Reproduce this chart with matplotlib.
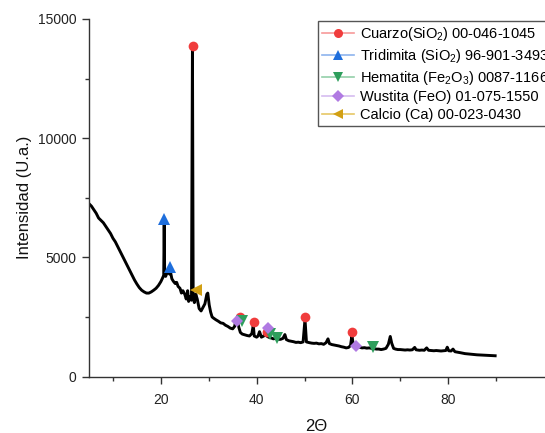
import matplotlib
matplotlib.use("Agg")
import matplotlib.pyplot as plt
from matplotlib.lines import Line2D

plt.rcParams['font.family'] = ['Liberation Sans', 'DejaVu Sans']
plt.rcParams['mathtext.fontset'] = 'custom'
plt.rcParams['mathtext.rm'] = 'Liberation Sans'
plt.rcParams['mathtext.it'] = 'Liberation Sans:italic'
plt.rcParams['mathtext.bf'] = 'Liberation Sans:bold'

# ---- XRD pattern ----
two_theta = [5.0, 5.5, 6.0, 6.5, 7.0, 7.5, 8.0, 8.5, 9.0, 9.5, 10.0, 10.5, 11.0, 11.5,
             12.0, 12.5, 13.0, 13.5, 14.0, 14.5, 15.0, 15.5, 16.0, 16.5, 17.0, 17.5,
             18.0, 18.5, 19.0, 19.5, 20.0, 20.4, 20.6, 20.7, 20.8, 21.0, 21.3, 21.6,
             21.8, 22.0, 22.3, 22.6, 23.0, 23.3, 23.6, 24.0, 24.3, 24.6, 25.0, 25.3,
             25.6, 25.8, 26.1, 26.4, 26.6, 26.75, 27.0, 27.3, 27.6, 28.0, 28.4, 28.8,
             29.2, 29.6, 29.8, 30.1, 30.4, 30.7, 31.0, 31.5, 32.0, 32.5, 33.0, 33.5,
             34.0, 34.5, 35.0, 35.4, 35.6, 36.0, 36.3, 36.6, 37.0, 37.5, 38.0, 38.5,
             39.0, 39.3, 39.5, 40.0, 40.3, 40.6, 41.0, 41.5, 41.8, 42.1, 42.5, 43.0,
             43.5, 44.0, 44.5, 45.0, 45.5, 45.9, 46.2, 46.7, 47.2, 47.7, 48.2, 48.7,
             49.2, 49.7, 50.1, 50.4, 51.0, 51.5, 52.0, 52.5, 53.0, 53.5, 54.0, 54.5,
             54.9, 55.2, 55.7, 56.2, 56.7, 57.2, 57.7, 58.2, 58.7, 59.2, 59.6, 59.9,
             60.2, 60.6, 61.0, 61.5, 62.0, 62.5, 63.0, 63.5, 64.0, 64.5, 65.0, 65.5,
             66.0, 66.5, 67.0, 67.5, 67.9, 68.2, 68.6, 69.0, 69.5, 70.0, 70.5, 71.0,
             71.5, 72.0, 72.5, 73.0, 73.3, 74.0, 74.5, 75.0, 75.5, 75.9, 76.5, 77.0,
             77.5, 78.0, 78.5, 79.0, 79.5, 79.8, 80.1, 80.6, 81.0, 81.4, 82.0, 82.5,
             83.0, 83.5, 84.0, 85.0, 86.0, 87.0, 88.0, 89.0, 89.8]
intensity = [7250, 7150, 7000, 6850, 6650, 6550, 6450, 6300, 6150, 6000, 5800, 5650, 5450, 5250,
             5050, 4850, 4650, 4450, 4250, 4050, 3880, 3730, 3620, 3550, 3500, 3500,
             3550, 3620, 3700, 3820, 3980, 4150, 4250, 6450, 4250, 4200, 4350, 4450,
             4300, 4400, 4100, 4000, 3900, 3950, 3780, 3700, 3500, 3600, 3450, 3250,
             3600, 3150, 3350, 3200, 13850, 3350, 3100, 3450, 3250, 2850, 2750, 2900,
             3050, 3450, 3500, 3000, 2700, 2500, 2450, 2380, 2320, 2250, 2230, 2150,
             2100, 2030, 2000, 2100, 2280, 2300, 2050, 1850, 1780, 1750, 1720, 1700,
             1800, 2150, 1700, 1650, 1700, 1880, 1650, 1700, 1850, 1700, 1650, 1620,
             1580, 1600, 1560, 1560, 1600, 1760, 1550, 1500, 1480, 1460, 1430, 1440,
             1420, 1450, 2400, 1450, 1420, 1400, 1390, 1400, 1370, 1380, 1350, 1420,
             1580, 1380, 1340, 1320, 1300, 1280, 1250, 1230, 1200, 1220, 1300, 1720,
             1300, 1250, 1220, 1230, 1200, 1210, 1190, 1200, 1180, 1170, 1150, 1150,
             1130, 1150, 1180, 1350, 1680, 1400, 1180, 1150, 1130, 1130, 1120, 1110,
             1120, 1110, 1120, 1220, 1120, 1100, 1110, 1100, 1200, 1100, 1090, 1080,
             1090, 1080, 1070, 1080, 1090, 1230, 1080, 1070, 1150, 1040, 1020, 1000,
             980, 960, 950, 930, 910, 900, 890, 880, 870]

# ---- phase markers ----
cuarzo_x = [26.65, 36.55, 39.5, 42.1, 50.13, 59.9]
cuarzo_y = [13850, 2490, 2275, 1880, 2490, 1880]
tridimita_x = [20.7, 21.9]
tridimita_y = [6600, 4610]
hematita_x = [36.9, 42.8, 44.2, 64.3]
hematita_y = [2345, 1800, 1600, 1250]
wustita_x = [35.86, 42.4, 60.8]
wustita_y = [2345, 2050, 1280]
calcio_x = [27.3]
calcio_y = [3630]

labels = ['Cuarzo(SiO$_2$) 00-046-1045',
          'Tridimita (SiO$_2$) 96-901-3493',
          'Hematita (Fe$_2$O$_3$) 0087-1166',
          'Wustita (FeO) 01-075-1550',
          'Calcio (Ca) 00-023-0430']
colors = ['#F03C3C', '#1E6EDC', '#2E9E5C', '#B07AE2', '#D2A014']
line_colors = ['#F79A9A', '#8DB4EE', '#93CFA9', '#D6BCF0', '#E6C766']
markers = ['o', '^', 'v', 'D', '<']
msizes = [7, 8, 8, 6.5, 8]

fig = plt.figure(figsize=(5.45, 4.33), dpi=100)
ax = fig.add_axes([89 / 545, (433 - 376.5) / 433, 455 / 545, 357.5 / 433])

ax.plot(two_theta, intensity, color='black', lw=2.1, zorder=2)

series = [(cuarzo_x, cuarzo_y), (tridimita_x, tridimita_y), (hematita_x, hematita_y),
          (wustita_x, wustita_y), (calcio_x, calcio_y)]
for i, (sx, sy) in enumerate(series):
    ax.plot(sx, sy, linestyle='none', marker=markers[i], ms=msizes[i],
            color=colors[i], markeredgewidth=0, zorder=3 + i)

ax.set_xlim(5, 100)
ax.set_ylim(0, 15000)
ax.set_xticks([20, 40, 60, 80])
ax.set_xticks([10, 30, 50, 70, 90], minor=True)
ax.set_yticks([0, 5000, 10000, 15000])
ax.set_yticks([2500, 7500, 12500], minor=True)

for s in ['top', 'right']:
    ax.spines[s].set_visible(False)
for s in ['left', 'bottom']:
    ax.spines[s].set_color('#333333')
    ax.spines[s].set_linewidth(1.0)

ax.tick_params(axis='both', which='major', direction='out', length=5, width=1,
               color='#333333', labelsize=10, labelcolor='#222222')
ax.tick_params(axis='both', which='minor', direction='out', length=3, width=1,
               color='#333333')
ax.tick_params(axis='x', which='major', pad=7)
ax.tick_params(axis='y', which='major', pad=4)

ax.set_xlabel('2Θ', fontsize=12, color='#111111')
ax.xaxis.set_label_coords(0.5, -0.118)
ax.set_ylabel('Intensidad (U.a.)', fontsize=12, color='#111111')
ax.yaxis.set_label_coords(-0.125, 0.5)

handles = [Line2D([0], [0], color=line_colors[i], lw=1.2, marker=markers[i],
                  ms=msizes[i] - 0.5, markerfacecolor=colors[i], markeredgewidth=0)
           for i in range(5)]
leg = fig.legend(handles, labels, loc='upper left',
                 bbox_to_anchor=(318 / 545, 1 - 21 / 433),
                 fontsize=10.5, frameon=True, fancybox=False, framealpha=1,
                 edgecolor='#555555', borderpad=0.3, labelspacing=0.25,
                 handlelength=2.2, handletextpad=0.4, borderaxespad=0)
leg.get_frame().set_linewidth(1.0)

fig.savefig('out.png', dpi=100)
